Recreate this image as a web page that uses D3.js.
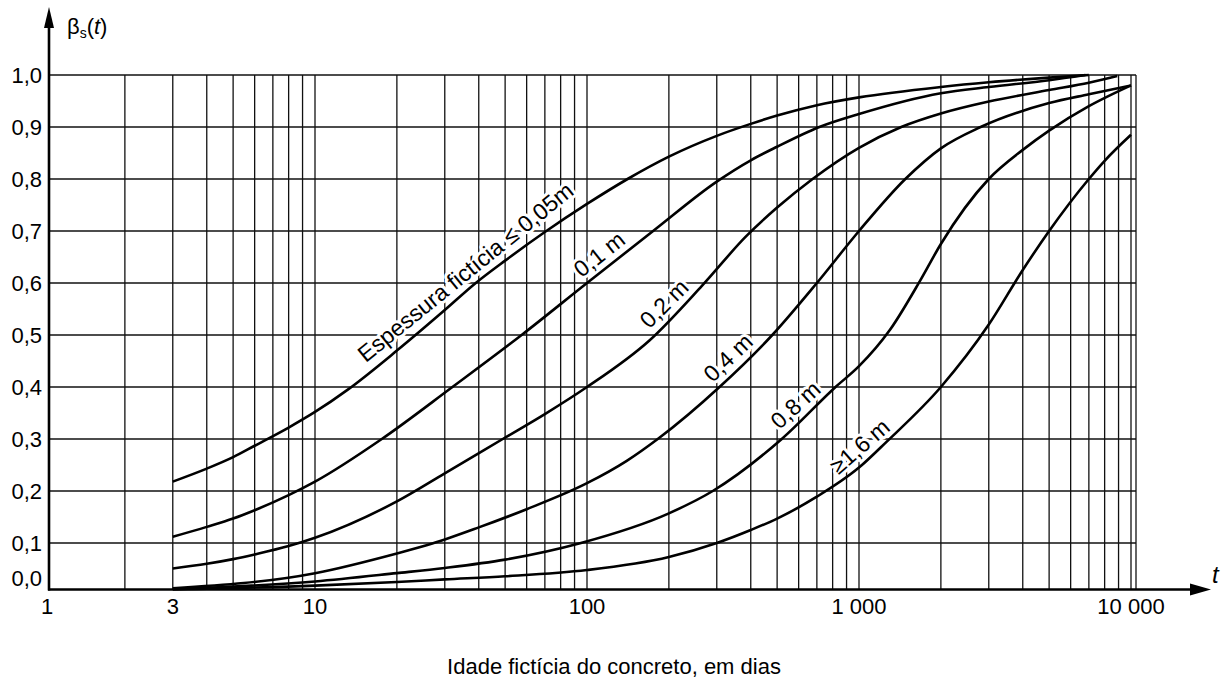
<!DOCTYPE html>
<html>
<head>
<meta charset="utf-8">
<script src="https://cdn.jsdelivr.net/npm/d3@7"></script>
<style>
  body { margin: 0; background: #fff; }
  text { font-family: "Liberation Sans", Arial, Helvetica, sans-serif; fill: #000; }
</style>
</head>
<body>
<div id="chart"></div>
<script>
// idade fictícia t (dias) e beta_s(t)
const ages005 = [3, 4, 5, 6, 8, 10, 13.2, 20, 30, 39, 50, 70, 100, 141, 200, 300, 400, 500, 700, 1000, 2000, 3000, 5000, 7000];
const beta005 = [0.218, 0.243, 0.265, 0.287, 0.322, 0.352, 0.395, 0.47, 0.548, 0.60, 0.643, 0.698, 0.752, 0.80, 0.843, 0.883, 0.906, 0.922, 0.942, 0.957, 0.977, 0.986, 0.995, 1.0];

const ages01 = [3, 4, 5, 6, 8, 10, 17.6, 32, 57.5, 100, 175, 300, 400, 500, 715, 1000, 2000, 3000, 5000, 6800];
const beta01 = [0.112, 0.131, 0.147, 0.163, 0.192, 0.218, 0.30, 0.40, 0.50, 0.60, 0.70, 0.795, 0.836, 0.862, 0.90, 0.925, 0.965, 0.977, 0.99, 1.0];

const ages02 = [3, 4, 5, 6, 8, 10, 20, 30, 49, 70, 100, 170, 265, 385, 500, 675, 1000, 1430, 2000, 3000, 5000, 7000, 8900];
const beta02 = [0.051, 0.06, 0.069, 0.078, 0.094, 0.11, 0.18, 0.234, 0.30, 0.348, 0.40, 0.49, 0.595, 0.69, 0.745, 0.80, 0.86, 0.90, 0.926, 0.949, 0.971, 0.985, 0.998];

const ages04 = [3, 10, 20, 27, 40, 60, 100, 140, 182, 307, 480, 700, 1000, 1480, 2000, 2800, 5000, 7000, 10000];
const beta04 = [0.013, 0.042, 0.08, 0.099, 0.13, 0.165, 0.215, 0.258, 0.30, 0.40, 0.50, 0.60, 0.70, 0.80, 0.859, 0.90, 0.946, 0.963, 0.98];

const ages08 = [3, 10, 20, 30, 50, 95, 200, 290, 520, 820, 1000, 1300, 1680, 2000, 3000, 4000, 5000, 7000, 10000];
const beta08 = [0.011, 0.026, 0.042, 0.052, 0.068, 0.10, 0.157, 0.20, 0.30, 0.40, 0.44, 0.51, 0.605, 0.675, 0.80, 0.856, 0.893, 0.94, 0.98];

const ages16 = [3, 10, 20, 30, 50, 100, 200, 300, 400, 500, 700, 1000, 1265, 2000, 3000, 4000, 5000, 7000, 8000, 10000];
const beta16 = [0.011, 0.018, 0.025, 0.03, 0.036, 0.048, 0.073, 0.10, 0.125, 0.147, 0.189, 0.245, 0.295, 0.40, 0.52, 0.625, 0.70, 0.80, 0.835, 0.885];

const curveNames = ["Espessura fictícia ≤ 0,05m", "0,1 m", "0,2 m", "0,4 m", "0,8 m", "≥1,6 m"];
const labelAges = [38.7, 120, 210, 360, 636, 1094];

const yTicks = [0, 0.1, 0.2, 0.3, 0.4, 0.5, 0.6, 0.7, 0.8, 0.9, 1.0];
const yTickLabels = ["0,0", "0,1", "0,2", "0,3", "0,4", "0,5", "0,6", "0,7", "0,8", "0,9", "1,0"];
const xTicks = [1, 3, 10, 100, 1000, 10000];
const xTickLabels = ["1", "3", "10", "100", "1 000", "10 000"];

const seriesAges = [ages005, ages01, ages02, ages04, ages08, ages16];
const seriesBeta = [beta005, beta01, beta02, beta04, beta08, beta16];

const width = 1228, height = 681;

const x = d3.scaleLog().domain([1, 10000]).range([43, 1131]);
const y = d3.scaleLinear().domain([0, 1]).range([595, 75]);
const axisX = x(1) + 6;       // the vertical axis sits a little right of t = 1
const axisY = y(0) - 5.5;     // the horizontal axis sits a little above beta = 0
const rightEdge = x(10000) + 5;

const svg = d3.select("#chart").append("svg")
    .attr("width", width)
    .attr("height", height);

// grid
const grid = svg.append("g").attr("stroke", "#111").attr("stroke-width", 1.3);
grid.selectAll("line.v")
  .data(x.ticks().filter(d => d > 1))
  .enter().append("line")
    .attr("x1", d => x(d)).attr("x2", d => x(d))
    .attr("y1", axisY).attr("y2", y(1));
grid.append("line")
    .attr("x1", rightEdge).attr("x2", rightEdge)
    .attr("y1", axisY).attr("y2", y(1));
grid.selectAll("line.h")
  .data(yTicks.filter(d => d > 0))
  .enter().append("line")
    .attr("x1", axisX).attr("x2", rightEdge)
    .attr("y1", d => y(d)).attr("y2", d => y(d));

// curve helpers
function pointAt(ages, vals, t) {
  let i = 0;
  while (i < ages.length - 2 && ages[i + 1] < t) i++;
  const f = (Math.log(t) - Math.log(ages[i])) / (Math.log(ages[i + 1]) - Math.log(ages[i]));
  return [x(t), y(vals[i] + f * (vals[i + 1] - vals[i]))];
}

// labels along the curves, with a white halo over the grid
curveNames.forEach((name, i) => {
  const t = labelAges[i];
  const p = pointAt(seriesAges[i], seriesBeta[i], t);
  const p1 = pointAt(seriesAges[i], seriesBeta[i], t / 1.4);
  const p2 = pointAt(seriesAges[i], seriesBeta[i], t * 1.4);
  const angle = Math.atan2(p2[1] - p1[1], p2[0] - p1[0]) * 180 / Math.PI;
  svg.append("g")
      .attr("transform", "translate(" + p[0] + "," + p[1] + ") rotate(" + angle + ")")
    .append("text")
      .attr("y", -7)
      .attr("text-anchor", "middle")
      .attr("font-size", 23)
      .attr("stroke", "#fff")
      .attr("stroke-width", 6)
      .attr("stroke-linejoin", "round")
      .attr("paint-order", "stroke")
      .text(name);
});

// curves
const line = d3.line()
    .x(d => x(d[0]))
    .y(d => y(d[1]))
    .curve(d3.curveMonotoneX);

svg.selectAll("path.curve")
  .data(seriesAges.map((ages, i) => ages.map((t, j) => [t, seriesBeta[i][j]])))
  .enter().append("path")
    .attr("class", "curve")
    .attr("d", line)
    .attr("fill", "none")
    .attr("stroke", "#000")
    .attr("stroke-width", 2.6);

// axes with arrows
svg.append("line")
    .attr("x1", axisX).attr("x2", axisX)
    .attr("y1", axisY + 1).attr("y2", 24)
    .attr("stroke", "#000").attr("stroke-width", 2.6);
svg.append("path")
    .attr("d", "M" + (axisX - 5) + ",28 L" + axisX + ",7 L" + (axisX + 5) + ",28 Z")
    .attr("fill", "#000");
svg.append("line")
    .attr("x1", axisX - 1).attr("x2", 1194)
    .attr("y1", axisY).attr("y2", axisY)
    .attr("stroke", "#000").attr("stroke-width", 2.6);
svg.append("path")
    .attr("d", "M1190," + (axisY - 6) + " L1211," + axisY + " L1190," + (axisY + 6) + " Z")
    .attr("fill", "#000");

// tick labels
svg.selectAll("text.ytick")
  .data(yTicks)
  .enter().append("text")
    .attr("x", 42)
    .attr("y", d => (d === 0 ? y(d) - 17 : y(d)) + 8)
    .attr("text-anchor", "end")
    .attr("font-size", 22)
    .text((d, i) => yTickLabels[i]);

svg.selectAll("text.xtick")
  .data(xTicks)
  .enter().append("text")
    .attr("x", d => x(d) + (d === 1 ? 4 : 0))
    .attr("y", 614)
    .attr("text-anchor", "middle")
    .attr("font-size", 22)
    .text((d, i) => xTickLabels[i]);

// axis titles
const yTitle = svg.append("text").attr("x", 67).attr("y", 34).attr("font-size", 22);
yTitle.append("tspan").text("β");
yTitle.append("tspan").attr("font-size", 14).attr("dy", 4).text("s");
yTitle.append("tspan").attr("dy", -4).text("(");
yTitle.append("tspan").attr("font-style", "italic").text("t");
yTitle.append("tspan").text(")");

svg.append("text")
    .attr("x", 1212).attr("y", 583)
    .attr("font-size", 24)
    .attr("font-style", "italic")
    .text("t");

svg.append("text")
    .attr("x", 614).attr("y", 674)
    .attr("text-anchor", "middle")
    .attr("font-size", 22)
    .text("Idade fictícia do concreto, em dias");
</script>
</body>
</html>
